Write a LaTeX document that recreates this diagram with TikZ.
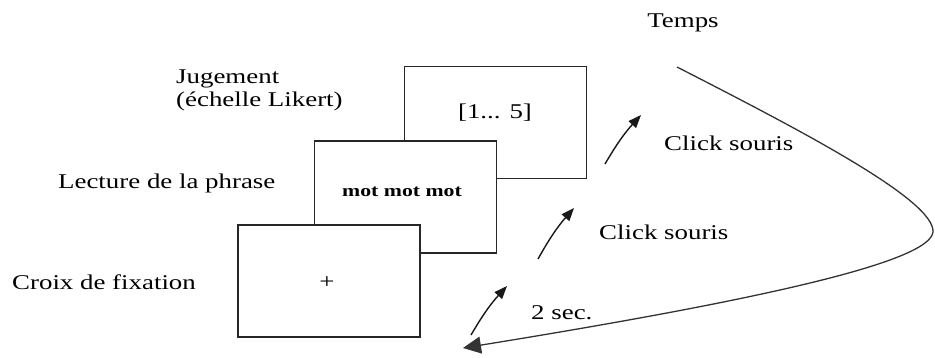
\documentclass[tikz,border=0pt]{standalone}
\usepackage{fontspec}
\setmainfont[FakeStretch=1.28]{Liberation Serif}
\usetikzlibrary{arrows.meta}
\begin{document}
\begin{tikzpicture}[x=1pt,y=-1pt,
  screen/.style={draw=black!85,line width=1.6pt,fill=white,minimum width=182pt,minimum height=112pt,inner sep=0pt},
  lab/.style={font=\fontsize{21}{23}\selectfont,inner sep=0pt,align=left},
  click/.style={draw=black!90,line width=1.4pt,-{Triangle[length=13pt,width=10pt]}},
  timeline/.style={draw=black!80,line width=1.3pt,-{Triangle[length=18pt,width=17pt]}}]
\useasboundingbox (0,0) rectangle (935,358);
% screens (back to front)
\node[screen] (s3) at (495.5,122.5) {};
\node[screen] (s2) at (405.5,197) {};
\node[screen] (s1) at (329,281) {};
% screen contents
\node[lab,anchor=center] (likert) at (495,113) {[1... 5]};
\node[font=\fontsize{17}{18}\selectfont\bfseries,inner sep=0pt] (mots) at (402,192) {mot mot mot};
\node[lab,anchor=center] (cross) at (327,283) {+};
% labels
\node[lab,anchor=west] (jug) at (176,90.5) {Jugement\\(échelle Likert)};
\node[lab,anchor=west] (lect) at (58,183) {Lecture de la phrase};
\node[lab,anchor=west] (croix) at (12,282) {Croix de fixation};
\node[lab,anchor=center] (temps) at (683,23) {Temps};
\node[lab,anchor=west] (c1) at (664,143) {Click souris};
\node[lab,anchor=west] (c2) at (599,232) {Click souris};
\node[lab,anchor=west] (sec) at (531,313) {2 sec.};
% click arrows
\coordinate (a1s) at (605,164); \coordinate (a1e) at (641,115);
\coordinate (a2s) at (538,259); \coordinate (a2e) at (574,208);
\coordinate (a3s) at (471,335); \coordinate (a3e) at (507,286);
\draw[click] (a1s) to[bend left=6] (a1e);
\draw[click] (a2s) to[bend left=6] (a2e);
\draw[click] (a3s) to[bend left=6] (a3e);
% time line
\coordinate (ts) at (677,67);
\coordinate (tm) at (933,232);
\coordinate (te) at (463,348);
\draw[timeline] (ts) .. controls (800,130) and (935,200) .. (tm)
  .. controls (930,262) and (760,300) .. (te);
\end{tikzpicture}
\end{document}
